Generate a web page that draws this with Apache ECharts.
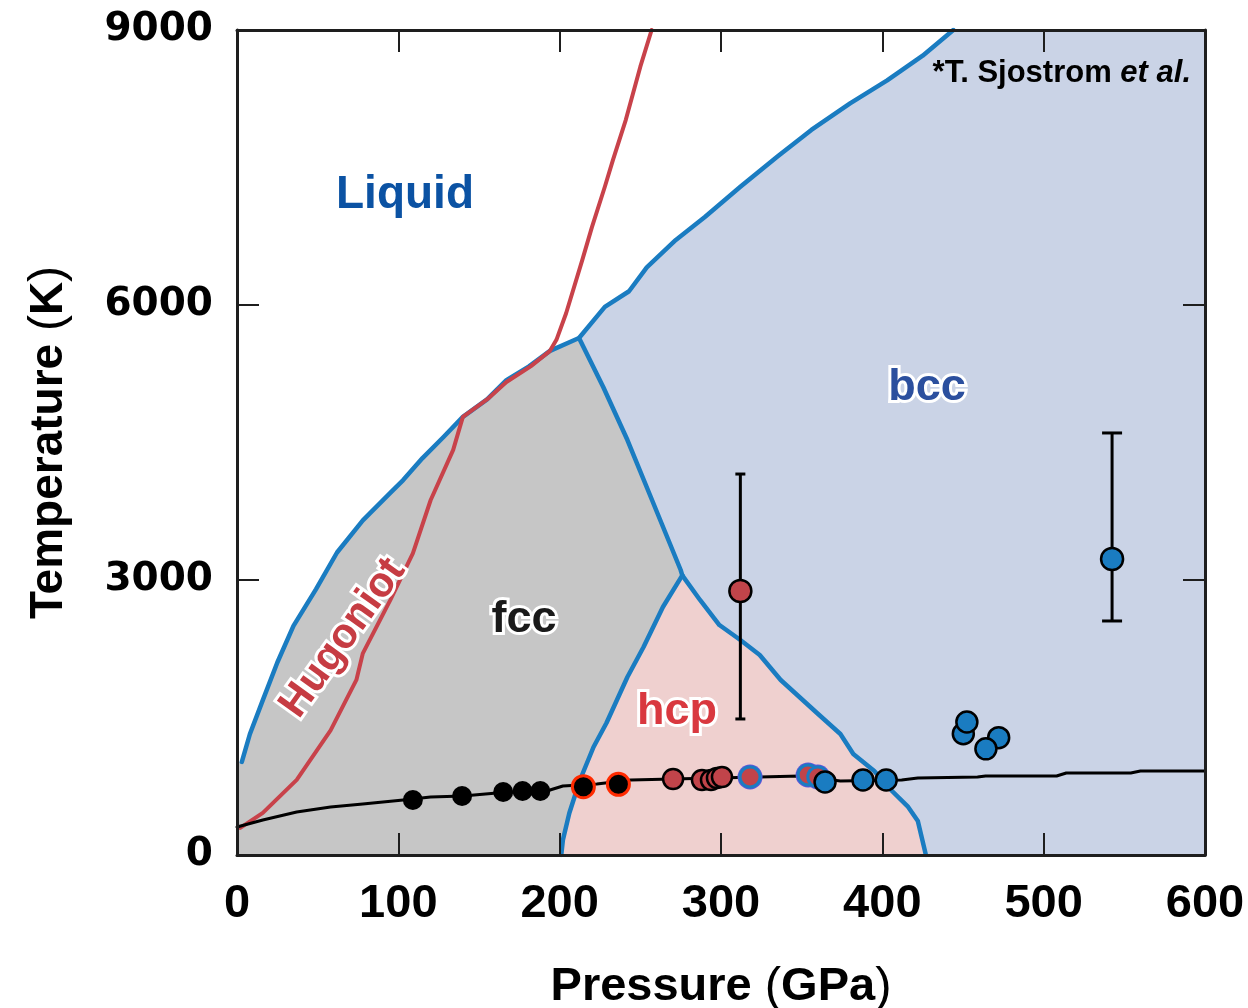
<!DOCTYPE html>
<html>
<head>
<meta charset="utf-8">
<title>Phase diagram</title>
<script src="https://cdn.jsdelivr.net/npm/echarts@6/dist/echarts.min.js"></script>
<style>
  html, body { margin: 0; padding: 0; background: #fff; }
  #chart { width: 1248px; height: 1008px; }
</style>
</head>
<body>
<div id="chart"></div>
<script>
// Pressure in GPa, temperature in K.
const xTicks = [0, 100, 200, 300, 400, 500, 600];
const yTicks = [0, 3000, 6000, 9000];

// Melting curve (liquid boundary)
const meltCurve = [
  [3, 1015], [8, 1320], [16, 1690], [25, 2100], [35, 2500], [49, 2900], [62, 3300],
  [78, 3650], [95, 3950], [103, 4090], [115, 4330], [128, 4560], [140, 4780],
  [155, 4970], [167, 5180], [181, 5330], [194, 5500], [212, 5640], [228, 5980],
  [243, 6150], [254, 6410], [272, 6710], [290, 6960], [312, 7290], [335, 7620],
  [356, 7910], [380, 8200], [403, 8450], [425, 8720], [444, 9000]
];

// Solid-solid phase boundaries
const fccBccLine = [[212, 5640], [227, 5105], [242, 4527], [258, 3840], [275, 3109], [276, 3050]];
const fccHcpLine = [
  [276, 3050], [264, 2705], [252, 2269], [242, 1942], [235.5, 1691], [229, 1440],
  [221, 1178], [212.6, 818], [206, 458], [202, 164], [201, 0]
];
const hcpBccLine = [
  [276, 3050], [287, 2782], [299, 2509], [312, 2345], [324, 2182], [337, 1909],
  [359.5, 1549], [374, 1320], [382, 1102], [395, 916], [403.5, 742], [416, 524],
  [422, 371], [427, 0]
];

// Principal Hugoniot
const hugoniot = [
  [2, 295], [16, 460], [37, 820], [58, 1360], [74, 1910], [78, 2200], [95, 2780],
  [109, 3290], [120, 3870], [134, 4420], [140, 4780], [155, 4970], [167, 5160],
  [182, 5330], [194, 5500], [198, 5620], [204, 5910], [214, 6490], [220, 6850],
  [228, 7290], [233, 7580], [241, 8020], [250, 8600], [257, 9000]
];

// Ramp-compression thermodynamic path
const rampPath = [
  [0, 305], [16, 382], [37, 469], [58, 524], [78, 556], [103, 600], [120, 633],
  [140, 644], [161, 676], [194, 709], [202, 753], [223, 775], [244, 818], [270, 829],
  [324, 851], [349, 862], [374, 807], [412, 818], [422, 840], [459, 851], [464, 862],
  [508, 862], [514, 895], [554, 895], [560, 916], [600, 916]
];

// Measured points, grouped by observed structure
const fccPoints = [[109, 600], [139.5, 644], [165, 687], [177, 698], [188, 698]];
const fccHcpPoints = [[214.7, 745], [236.4, 771]];
const hcpPoints = [[270.3, 829], [288.2, 818], [293.8, 818], [297.5, 840], [300.6, 851]];
const hcpBccPoints = [[318, 851], [354, 873], [360, 851]];
const bccPoints = [
  [364.5, 796], [388, 818], [402.4, 818],
  [450.2, 1323], [452.4, 1451], [472.1, 1280], [464.2, 1158]
];
// [pressure, temperature, lower T, upper T]
const hcpShotPoint = [[312, 2880, 1484, 4156]];
const bccShotPoint = [[542.4, 3229, 2553, 4604]];

const BLUE = '#1a7cc1';
const RED_LINE = '#c8424a';
const RED_PT = '#c1444a';
const INK = '#1e1e1e';

// Region outlines assembled from the boundaries
const meltLow = meltCurve.filter(p => p[0] <= 212);
const meltHigh = meltCurve.filter(p => p[0] >= 212);
const fccRegion = [[0, 0], [0, meltCurve[0][1]]]
  .concat(meltLow, fccBccLine.slice(1), fccHcpLine.slice(1));
const hcpRegion = fccHcpLine.concat(hcpBccLine.slice().reverse());
const bccRegion = meltHigh
  .concat([[600, 9000], [600, 0]], hcpBccLine.slice().reverse(), fccBccLine.slice().reverse());

function regionSeries(points, color) {
  return {
    type: 'custom',
    silent: true,
    z: 1,
    data: [0],
    renderItem: function (params, api) {
      return {
        type: 'polygon',
        shape: { points: points.map(p => api.coord(p)) },
        style: { fill: color }
      };
    }
  };
}

function curveSeries(data, color, width, z) {
  return {
    type: 'line',
    data: data,
    symbol: 'none',
    silent: true,
    z: z,
    lineStyle: { color: color, width: width, join: 'round', cap: 'round' }
  };
}

function errorBarSeries(data, capHalf) {
  return {
    type: 'custom',
    silent: true,
    z: 5,
    data: data,
    renderItem: function (params, api) {
      const x = api.value(0);
      const lo = api.coord([x, api.value(2)]);
      const hi = api.coord([x, api.value(3)]);
      const st = { stroke: '#000', lineWidth: 3, fill: null };
      return {
        type: 'group',
        children: [
          { type: 'line', shape: { x1: lo[0], y1: lo[1], x2: hi[0], y2: hi[1] }, style: st },
          { type: 'line', shape: { x1: lo[0] - capHalf, y1: lo[1], x2: lo[0] + capHalf, y2: lo[1] }, style: st },
          { type: 'line', shape: { x1: hi[0] - capHalf, y1: hi[1], x2: hi[0] + capHalf, y2: hi[1] }, style: st }
        ]
      };
    }
  };
}

function pointSeries(data, fill, border, borderWidth, size, z) {
  return {
    type: 'scatter',
    data: data,
    symbol: 'circle',
    symbolSize: size,
    z: z,
    silent: true,
    itemStyle: { color: fill, borderColor: border, borderWidth: borderWidth, opacity: 1 }
  };
}

const tickStyle = { inside: true, length: 22, lineStyle: { color: INK, width: 2 } };
const frameLine = { show: true, onZero: false, lineStyle: { color: INK, width: 3 } };
const FONT = '"Liberation Sans", Arial, Helvetica, sans-serif';

const chart = echarts.init(document.getElementById('chart'), null, { renderer: 'canvas' });

chart.setOption({
  animation: false,
  backgroundColor: '#ffffff',
  grid: {
    left: 237, top: 30, right: 43, bottom: 153,
    containLabel: false, outerBoundsMode: 'none'
  },
  xAxis: [
    {
      type: 'value', min: xTicks[0], max: xTicks[xTicks.length - 1], interval: 100,
      position: 'bottom', z: 10,
      axisLine: frameLine, axisTick: tickStyle, splitLine: { show: false },
      axisLabel: {
        margin: 26, color: '#000',
        fontFamily: FONT, fontWeight: 'bold', fontSize: 47,
        formatter: v => (xTicks.indexOf(v) >= 0 ? String(v) : '')
      },
      name: '{b|Pressure }{p|(}{b|GPa}{p|)}',
      nameLocation: 'middle', nameGap: 108,
      nameTextStyle: {
        rich: {
          b: { fontFamily: FONT, fontWeight: 'bold', fontSize: 47, color: '#000' },
          p: { fontFamily: FONT, fontWeight: 'normal', fontSize: 49, color: '#000' }
        }
      }
    },
    {
      type: 'value', min: 0, max: 600, interval: 100, position: 'top', z: 10,
      axisLine: frameLine, axisTick: tickStyle, axisLabel: { show: false },
      splitLine: { show: false }
    }
  ],
  yAxis: [
    {
      type: 'value', min: yTicks[0], max: yTicks[yTicks.length - 1], interval: 3000,
      position: 'left', z: 10,
      axisLine: frameLine, axisTick: tickStyle, splitLine: { show: false },
      axisLabel: {
        margin: 24, color: '#000',
        fontFamily: '"DejaVu Sans", Verdana, sans-serif', fontWeight: 'bold', fontSize: 39,
        formatter: v => (yTicks.indexOf(v) >= 0 ? String(v) : '')
      },
      name: '{b|Temperature }{p|(}{b|K}{p|)}',
      nameLocation: 'middle', nameGap: 164, nameRotate: 90,
      nameTextStyle: {
        rich: {
          b: { fontFamily: FONT, fontWeight: 'bold', fontSize: 46, color: '#000' },
          p: { fontFamily: FONT, fontWeight: 'normal', fontSize: 48, color: '#000' }
        }
      }
    },
    {
      type: 'value', min: 0, max: 9000, interval: 3000, position: 'right', z: 10,
      axisLine: frameLine, axisTick: tickStyle, axisLabel: { show: false },
      splitLine: { show: false }
    }
  ],
  series: [
    regionSeries(fccRegion, '#c6c6c6'),
    regionSeries(hcpRegion, '#efd0cf'),
    regionSeries(bccRegion, '#cad3e6'),
    curveSeries(meltCurve, BLUE, 4.5, 3),
    curveSeries(fccBccLine, BLUE, 4.5, 3),
    curveSeries(fccHcpLine, BLUE, 4.5, 3),
    curveSeries(hcpBccLine, BLUE, 4.5, 3),
    curveSeries(hugoniot, RED_LINE, 4, 4),
    curveSeries(rampPath, '#000', 3, 4),
    errorBarSeries(hcpShotPoint, 5),
    errorBarSeries(bccShotPoint, 10),
    pointSeries(fccPoints, '#000', '#000', 0, 20, 6),
    pointSeries(fccHcpPoints, '#000', '#ff2a00', 3, 22, 6),
    pointSeries(hcpPoints, RED_PT, '#000', 2.5, 20, 6),
    pointSeries(hcpBccPoints, '#5a56d8', '#5a56d8', 0, 25, 6),
    pointSeries(hcpBccPoints, RED_PT, BLUE, 3, 20, 6),
    pointSeries(bccPoints, BLUE, '#000', 2.5, 21, 7),
    pointSeries(hcpShotPoint.map(d => [d[0], d[1]]), RED_PT, '#000', 2.5, 22, 7),
    pointSeries(bccShotPoint.map(d => [d[0], d[1]]), BLUE, '#000', 2.5, 22, 7)
  ],
  graphic: [
    {
      type: 'text', x: 405, y: 195, z: 20,
      style: { text: 'Liquid', fill: '#0b52a3', font: 'bold 46px ' + FONT, align: 'center', verticalAlign: 'middle' }
    },
    {
      type: 'text', x: 927, y: 388, z: 20,
      style: {
        text: 'bcc', fill: '#2b4f9e', stroke: '#ffffff', lineWidth: 6, strokeFirst: true,
        font: 'bold 45px ' + FONT, align: 'center', verticalAlign: 'middle'
      }
    },
    {
      type: 'text', x: 524, y: 620, z: 20,
      style: {
        text: 'fcc', fill: '#1a1a1a', stroke: '#ffffff', lineWidth: 6, strokeFirst: true,
        font: 'bold 45px ' + FONT, align: 'center', verticalAlign: 'middle'
      }
    },
    {
      type: 'text', x: 677, y: 712, z: 20,
      style: {
        text: 'hcp', fill: '#d9383f', stroke: '#ffffff', lineWidth: 6, strokeFirst: true,
        font: 'bold 45px ' + FONT, align: 'center', verticalAlign: 'middle'
      }
    },
    {
      type: 'text', x: 343, y: 638, rotation: 0.95, z: 20,
      style: {
        text: 'Hugoniot', fill: '#c63c43', stroke: '#ffffff', lineWidth: 6, strokeFirst: true,
        font: 'bold 42px ' + FONT, align: 'center', verticalAlign: 'middle'
      }
    },
    {
      type: 'text', x: 1191, y: 73, z: 20,
      style: {
        text: '{n|*T. Sjostrom }{i|et al.}',
        align: 'right', verticalAlign: 'middle',
        rich: {
          n: { font: 'bold 31px ' + FONT, fill: '#000' },
          i: { font: 'italic bold 31px ' + FONT, fill: '#000' }
        }
      }
    }
  ]
});
</script>
</body>
</html>
